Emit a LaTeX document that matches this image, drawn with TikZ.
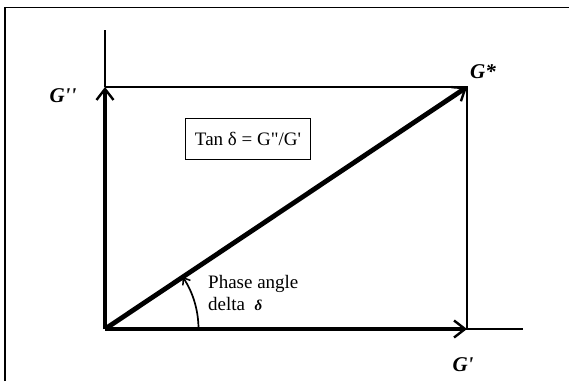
\documentclass[tikz,border=0pt]{standalone}
\usepackage{fontspec}
\setmainfont{Liberation Serif}[Ligatures=TeXOff]
\usetikzlibrary{arrows.meta}
\begin{document}
\begin{tikzpicture}[x=1pt,y=-1pt,
  thinline/.style={line width=1.8pt},
  thickarrow/.style={line width=3.6pt,-{Straight Barb[length=11pt,width=17pt,line width=2.4pt]}},
  biglabel/.style={font=\fontsize{21}{24}\selectfont\bfseries\itshape},
  txt/.style={font=\fontsize{19}{22}\selectfont, inner sep=0pt}]
\useasboundingbox (0,0) rectangle (569,381);
% frame
\coordinate (fb) at (5,381);
\coordinate (fc) at (5,7.5);
\coordinate (fr) at (569,7.5);
\draw[line width=1.8pt] (fb) -- (fc) -- (fr);
% key points
\coordinate (O) at (105,329);
\coordinate (GY) at (105,87);
\coordinate (GS) at (467,87);
\coordinate (GX) at (467,329);
\coordinate (Xend) at (523,329);
\coordinate (Ytop) at (105,30);
% thin lines
\draw[thinline] (GY) -- (Ytop);
\draw[thinline] (GY) -- (GS) -- (GX) -- (Xend);
% thick vectors
\draw[thickarrow] (O) -- (GY);
\draw[thickarrow] (O) -- (GX);
\draw[line width=4.8pt,-{Straight Barb[length=11pt,width=17pt,line width=2.4pt]}] (O) -- (GS);
% angle arc
\coordinate (A0) at (198.5,329);
\draw[line width=1.7pt,-{Straight Barb[length=6pt,width=9pt,line width=1.5pt]}] (A0) arc[start angle=0,end angle=-33.9,radius=93.5];
% labels
\node[biglabel] (lGpp) at (63,96) {G''};
\node[biglabel] (lGs) at (483,72) {G*};
\node[biglabel] (lGp) at (463,365) {G'};
\node[draw, line width=1.1pt, minimum width=125pt, minimum height=41pt, txt] (tan) at (248,139) {Tan δ = G"/G'};
\node[txt, anchor=base west] (phase) at (208,288) {Phase angle};
\node[txt, anchor=base west] (delta) at (208,310) {delta\ \ {\fontsize{15}{18}\selectfont\bfseries\itshape δ}};
\end{tikzpicture}
\end{document}
